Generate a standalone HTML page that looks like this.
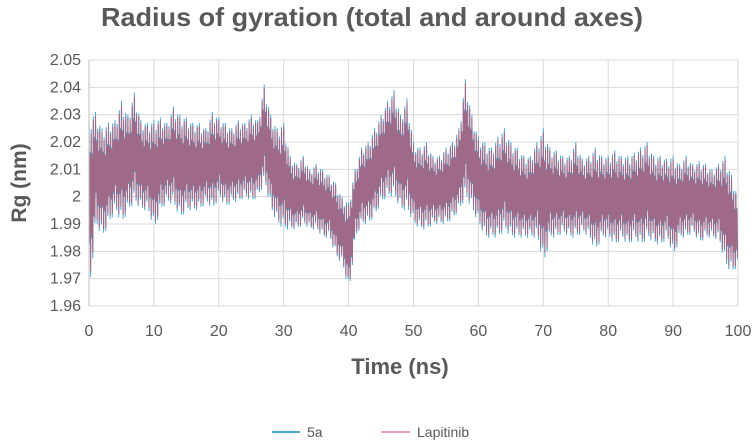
<!DOCTYPE html>
<html><head><meta charset="utf-8"><style>
body{margin:0;background:#fff;width:754px;height:443px;overflow:hidden}
svg text{font-family:"Liberation Sans",sans-serif;fill:#595959}
</style></head><body>
<svg id="chart" width="754" height="443">
<text x="101" y="26" font-size="26" font-weight="bold" textLength="542" lengthAdjust="spacingAndGlyphs">Radius of gyration (total and around axes)</text>
<text transform="translate(26,183) rotate(-90)" text-anchor="middle" font-size="21" font-weight="bold">Rg (nm)</text>
<text x="400" y="374" text-anchor="middle" font-size="22" font-weight="bold">Time (ns)</text>
<g id="grid"></g><g id="series"></g><g id="ticks"></g>
<g>
<line x1="272" y1="432" x2="300" y2="432" stroke="#4aa8d8" stroke-width="2"/>
<text x="307" y="437" font-size="14">5a</text>
<line x1="381" y1="432" x2="410" y2="432" stroke="#e8a0b0" stroke-width="2"/>
<text x="417" y="437" font-size="14">Lapitinib</text>
</g>
</svg>
<script>
const xTicks=[0,10,20,30,40,50,60,70,80,90,100];
const yTicks=[1.96,1.97,1.98,1.99,2.00,2.01,2.02,2.03,2.04,2.05];
const yTickLabels=["1.96","1.97","1.98","1.99","2","2.01","2.02","2.03","2.04","2.05"];
const hiVals=[2.03,2.031,2.025,2.027,2.028,2.035,2.03,2.038,2.028,2.027,2.028,2.029,2.027,2.033,2.03,2.029,2.027,2.027,2.025,2.031,2.029,2.027,2.025,2.028,2.027,2.03,2.028,2.041,2.03,2.025,2.027,2.015,2.012,2.015,2.01,2.012,2.01,2.008,2.005,2.0,1.998,2.01,2.018,2.02,2.025,2.03,2.035,2.039,2.03,2.036,2.02,2.018,2.02,2.015,2.015,2.018,2.02,2.025,2.043,2.03,2.022,2.02,2.018,2.022,2.025,2.02,2.018,2.015,2.015,2.02,2.025,2.018,2.017,2.015,2.015,2.02,2.014,2.015,2.018,2.015,2.015,2.017,2.015,2.015,2.016,2.018,2.02,2.015,2.015,2.014,2.015,2.012,2.015,2.012,2.013,2.012,2.01,2.012,2.015,2.008,2.0];
const loVals=[1.965,1.99,1.985,1.99,1.995,1.99,1.995,1.998,1.995,1.995,1.988,1.995,1.998,1.997,1.992,1.995,1.995,1.995,1.998,1.995,2.0,1.996,1.998,1.998,2.0,1.998,2.0,2.005,1.995,1.99,1.988,1.988,1.988,1.99,1.988,1.988,1.985,1.985,1.978,1.975,1.965,1.985,1.99,1.99,1.993,1.998,2.0,2.0,1.995,1.995,1.99,1.988,1.988,1.99,1.99,1.99,1.992,1.995,2.0,1.995,1.99,1.985,1.985,1.985,1.988,1.985,1.985,1.985,1.985,1.985,1.975,1.985,1.985,1.987,1.985,1.985,1.987,1.985,1.98,1.985,1.985,1.982,1.985,1.982,1.985,1.982,1.985,1.983,1.982,1.985,1.978,1.985,1.985,1.987,1.983,1.985,1.985,1.984,1.975,1.972,1.975];
const NS="http://www.w3.org/2000/svg";
const X0=89,X1=738,Y0=306,Y1=60;
const xs=t=>X0+(t-0)/(100-0)*(X1-X0);
const ys=v=>Y0-(v-1.96)/(2.05-1.96)*(Y0-Y1);
function mk(tag,attrs,parent){const e=document.createElementNS(NS,tag);for(const k in attrs)e.setAttribute(k,attrs[k]);parent.appendChild(e);return e;}
const grid=document.getElementById('grid'),ticks=document.getElementById('ticks'),ser=document.getElementById('series');
yTicks.forEach((v,i)=>{
 const l=mk('line',{x1:X0,x2:X1,y1:ys(v),y2:ys(v),stroke:'#d9d9d9','stroke-width':1},grid);
 
 
 const t=mk('text',{x:X0-8,y:ys(v)+5,'text-anchor':'end','font-size':16},ticks);
 t.textContent=yTickLabels[i];
 
 
});
xTicks.forEach(v=>{
 const l=mk('line',{x1:xs(v),x2:xs(v),y1:Y1,y2:Y0,stroke:'#d9d9d9','stroke-width':1},grid);
 
 
 const t=mk('text',{x:xs(v),y:Y0+30,'text-anchor':'middle','font-size':16},ticks);
 t.textContent=String(v);
 
 
});
function pathFor(scale){
 let d='';const K=6;const amp=[1,0.55,0.8,0.45,0.95,0.6];
 for(let i=0;i<hiVals.length-1;i++){
  for(let k=0;k<K;k++){
   const f=k/K, t=i+f;
   const hi=hiVals[i]*(1-f)+hiVals[i+1]*f, lo=loVals[i]*(1-f)+loVals[i+1]*f;
   const m=(hi+lo)/2,h=(hi-lo)/2;
   const a=scale*amp[k], b=scale*amp[(k+3)%K];
   d+=(d?'L':'M')+xs(t).toFixed(1)+','+ys(m+h*a).toFixed(1);
   d+='L'+xs(t+0.5/K).toFixed(1)+','+ys(m-h*b).toFixed(1);
  }
 }
 return d;
}
const s1=mk('path',{d:pathFor(1),fill:'none',stroke:'#4aa8d8','stroke-width':1},ser);


const s2=mk('path',{d:pathFor(0.93),fill:'none',stroke:'#a9627f','stroke-width':1.1,'stroke-opacity':0.9},ser);


const ax=mk('line',{x1:X0,x2:X0,y1:Y1,y2:Y0,stroke:'#bfbfbf'},ticks);


</script>
</body></html>
